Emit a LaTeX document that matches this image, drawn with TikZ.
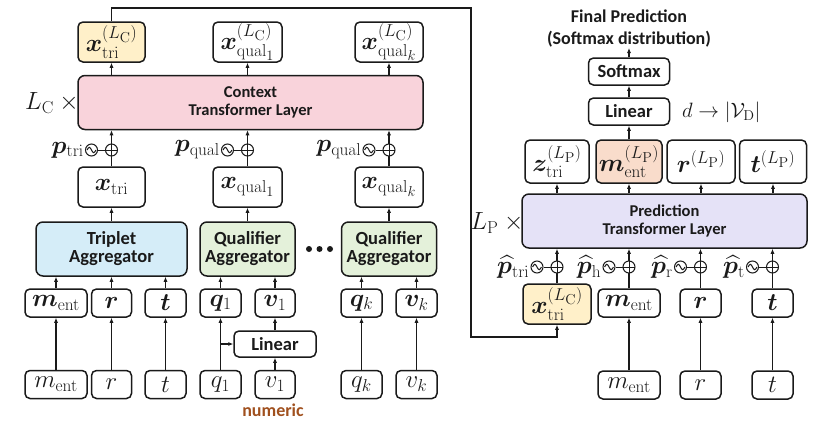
\documentclass[tikz,border=0pt]{standalone}
\usepackage{amsmath}
\usepackage{bm}
\usepackage[no-math]{fontspec}
\setmainfont{Carlito}
\usetikzlibrary{arrows.meta,positioning}
\DeclareMathSizes{24.88}{24.88}{17.28}{14.4}
\definecolor{triyel}{HTML}{FFF0C9}
\definecolor{ctxpink}{HTML}{F9D3DB}
\definecolor{tribl}{HTML}{D5EDF8}
\definecolor{qualgr}{HTML}{E4F1DA}
\definecolor{predlav}{HTML}{E5E2F7}
\definecolor{entpch}{HTML}{F9DCCB}
\definecolor{numbr}{HTML}{A0501E}
\definecolor{edge}{HTML}{1A1A1A}
\def\mth{\fontsize{24.88}{28}\selectfont}
\def\mths{\fontsize{20.74}{24}\selectfont}
\def\txt{\fontsize{16.5}{18}\selectfont\bfseries}
\def\txb{\fontsize{18.5}{18}\selectfont\bfseries}
\def\xlc{^{(L_{\mathrm{C}})}}
\def\xlp{^{(L_{\mathrm{P}})}}
\tikzset{
  box/.style={draw=edge, line width=1.5pt, rounded corners=5pt, inner sep=0pt, align=center},
  vec/.style={box, minimum width=#1, minimum height=28pt, font=\mth},
  vec/.default=41pt,
  tall/.style={box, minimum width=#1, minimum height=40pt, font=\mth},
  lay/.style={box, minimum height=54pt, font=\txt, rounded corners=7pt},
  agg/.style={lay, font=\txb},
  lin/.style={box, minimum width=81pt, minimum height=27pt, font=\txb},
  oplus/.style={circle, draw=edge, line width=1pt, minimum size=12pt, inner sep=0pt, fill=white,
    path picture={\draw[edge, line width=1pt] (path picture bounding box.north) -- (path picture bounding box.south)
      (path picture bounding box.west) -- (path picture bounding box.east);}},
  sinc/.style={circle, draw=edge, line width=1pt, minimum size=12pt, inner sep=0pt, fill=white,
    path picture={\draw[edge, line width=1pt] ([xshift=-4.4pt]path picture bounding box.center)
      sin ++(2.2pt,2.7pt) cos ++(2.2pt,-2.7pt) sin ++(2.2pt,-2.7pt) cos ++(2.2pt,2.7pt);}},
  plab/.style={anchor=east, inner sep=0.5pt, font=\mth}
}

\begin{document}
\begin{tikzpicture}[x=1pt, y=-1pt, >={Latex[length=5pt,width=4.2pt]}, line width=1.6pt, color=edge]
  \useasboundingbox (0,0) rectangle (815,421);

  % context side
  \node[tall=67pt, fill=triyel] (ctri) at (111.5,42) {$\bm{x}\xlc_{\mathrm{tri}}$};
  \node[tall=69pt] (cq1) at (247.5,42) {$\bm{x}\xlc_{\mathrm{qual}_1}$};
  \node[tall=68pt] (cqk) at (389,42) {$\bm{x}\xlc_{\mathrm{qual}_k}$};
  \node[lay, minimum width=345pt, fill=ctxpink] (ctx) at (250.5,102.5) {Context\\Transformer Layer};
  \node[font=\mth] (lc) at (52,103) {$L_{\mathrm{C}}\ \times$};

  \node[tall=67pt] (xtri) at (111.5,187) {$\bm{x}_{\mathrm{tri}}$};
  \node[tall=69pt] (xq1) at (247.5,187) {$\bm{x}_{\mathrm{qual}_1}$};
  \node[tall=68pt] (xqk) at (389,187) {$\bm{x}_{\mathrm{qual}_k}$};

  \node[agg, minimum width=151pt, fill=tribl] (tagg) at (111.5,249) {Triplet\\Aggregator};
  \node[agg, minimum width=95pt, fill=qualgr] (qagg1) at (247.5,249) {Qualifier\\Aggregator};
  \node[agg, minimum width=95pt, fill=qualgr] (qaggk) at (389,249) {Qualifier\\Aggregator};
  \foreach \dx in {-10.5,0,10.5}
    \fill[edge] (319.5+\dx,249) circle (3pt);

  \node[vec=62pt] (mv) at (56,303) {$\bm{m}_{\mathrm{ent}}$};
  \node[vec=40pt] (rv) at (111.5,303) {$\bm{r}$};
  \node[vec] (tv) at (165.5,303) {$\bm{t}$};
  \node[vec] (q1v) at (220.5,303) {$\bm{q}_1$};
  \node[vec=40pt] (v1v) at (275,303) {$\bm{v}_1$};
  \node[vec] (qkv) at (361.5,303) {$\bm{q}_k$};
  \node[vec] (vkv) at (416.5,303) {$\bm{v}_k$};

  \node[lin, minimum width=82pt, minimum height=26pt] (lin1) at (275,344) {Linear};

  \node[vec=62pt] (m0) at (56,384.5) {$m_{\mathrm{ent}}$};
  \node[vec=40pt] (r0) at (111.5,384.5) {$r$};
  \node[vec] (t0) at (165.5,384.5) {$t$};
  \node[vec] (q10) at (220.5,384.5) {$q_1$};
  \node[vec=40pt] (v10) at (275,384.5) {$v_1$};
  \node[vec] (qk0) at (361.5,384.5) {$q_k$};
  \node[vec] (vk0) at (416.5,384.5) {$v_k$};
  \node[font=\fontsize{18}{20}\selectfont\bfseries, text=numbr, inner sep=0pt] (num) at (273,410) {numeric};

  % raw -> vectors -> aggregators
  \draw[->] (m0) -- (mv);
  \draw[->] (r0) -- (rv);
  \draw[->] (t0) -- (tv);
  \draw[->] (q10) -- (q1v);
  \draw[->] (v10) -- (lin1);
  \draw[->] (lin1) -- (v1v);
  \coordinate (br) at (q10.north |- lin1.west);
  \draw[->] (br) -- (lin1.west);
  \draw[->] (qk0) -- (qkv);
  \draw[->] (vk0) -- (vkv);
  \foreach \v/\g in {mv/tagg, rv/tagg, tv/tagg, q1v/qagg1, v1v/qagg1, qkv/qaggk, vkv/qaggk}
    \draw[->] (\v.north) -- (\v.north |- \g.south);
  \draw[->] (tagg) -- (xtri);
  \draw[->] (qagg1) -- (xq1);
  \draw[->] (qaggk) -- (xqk);
  \foreach \x in {xtri, xq1, xqk}
    \draw[->] (\x.north) -- (\x.north |- ctx.south);
  \foreach \c in {ctri, cq1, cqk}
    \draw[->] (\c.south |- ctx.north) -- (\c.south);

  % positional encodings
  \node[oplus] (o1) at (111.5,150) {};
  \node[sinc, left=7pt of o1] (s1) {};
  \node[oplus] (o2) at (247.5,150) {};
  \node[sinc, left=7pt of o2] (s2) {};
  \node[oplus] (o3) at (389,150) {};
  \node[sinc, left=7pt of o3] (s3) {};
  \draw[line width=1pt] (s1) -- (o1) (s2) -- (o2) (s3) -- (o3);
  \node[plab] (p1) at (s1.west) {$\bm{p}_{\mathrm{tri}}$};
  \node[plab] (p2) at (s2.west) {$\bm{p}_{\mathrm{qual}}$};
  \node[plab] (p3) at (s3.west) {$\bm{p}_{\mathrm{qual}}$};

  % prediction side
  \node[tall=68pt, fill=triyel] (rtri) at (557,304) {$\bm{x}\xlc_{\mathrm{tri}}$};
  \node[vec=62pt] (pmv) at (629,303) {$\bm{m}_{\mathrm{ent}}$};
  \node[vec] (prv) at (700.5,303) {$\bm{r}$};
  \node[vec] (ptv) at (772.5,303) {$\bm{t}$};
  \node[vec=62pt] (pm0) at (629,385) {$m_{\mathrm{ent}}$};
  \node[vec] (pr0) at (700.5,385) {$r$};
  \node[vec] (pt0) at (772.5,385) {$t$};

  \node[lay, minimum width=285pt, fill=predlav] (pred) at (664.5,221) {Prediction\\Transformer Layer};
  \node[font=\mth] (lp) at (497,223) {$L_{\mathrm{P}}\ \times$};

  \node[box, minimum width=64pt, minimum height=43pt, font=\mth] (ztri) at (557,161.5) {$\bm{z}\xlp_{\mathrm{tri}}$};
  \node[box, minimum width=66pt, minimum height=43pt, font=\mth, fill=entpch] (mentp) at (629,161.5) {$\bm{m}\xlp_{\mathrm{ent}}$};
  \node[box, minimum width=68pt, minimum height=43pt, font=\mth] (rp) at (701,161.5) {$\bm{r}\xlp$};
  \node[box, minimum width=67pt, minimum height=43pt, font=\mth] (tp) at (773,161.5) {$\bm{t}\xlp$};

  \node[lin] (lin2) at (629,111.5) {Linear};
  \node[lin] (soft) at (629,71.5) {Softmax};
  \node[font=\mths, anchor=west] (dv) at (678,112) {$d\rightarrow|\mathcal{V}_{\mathrm{D}}|$};
  \node[anchor=south, inner sep=0pt, align=center, font=\fontsize{18}{22}\selectfont\bfseries] (fin) at (629,48) {Final Prediction\\(Softmax distribution)};

  \draw[->] (pm0) -- (pmv);
  \draw[->] (pr0) -- (prv);
  \draw[->] (pt0) -- (ptv);
  \foreach \v in {rtri, pmv, prv, ptv}
    \draw[->] (\v.north) -- (\v.north |- pred.south);
  \foreach \c in {ztri, mentp, rp, tp}
    \draw[->] (\c.south |- pred.north) -- (\c.south);
  \draw[->] (mentp) -- (lin2);
  \draw[->] (lin2) -- (soft);
  \draw[->] (soft) -- (fin.south);

  % hat encodings
  \node[oplus] (h1) at (557,267) {};
  \node[sinc, left=7pt of h1] (hs1) {};
  \node[oplus] (h2) at (629,267) {};
  \node[sinc, left=7pt of h2] (hs2) {};
  \node[oplus] (h3) at (700.5,267) {};
  \node[sinc, left=7pt of h3] (hs3) {};
  \node[oplus] (h4) at (772.5,267) {};
  \node[sinc, left=7pt of h4] (hs4) {};
  \draw[line width=1pt] (hs1) -- (h1) (hs2) -- (h2) (hs3) -- (h3) (hs4) -- (h4);
  \node[plab] (ph1) at (hs1.west) {$\widehat{\bm{p}}_{\mathrm{tri}}$};
  \node[plab] (ph2) at (hs2.west) {$\widehat{\bm{p}}_{\mathrm{h}}$};
  \node[plab] (ph3) at (hs3.west) {$\widehat{\bm{p}}_{\mathrm{r}}$};
  \node[plab] (ph4) at (hs4.west) {$\widehat{\bm{p}}_{\mathrm{t}}$};

  % feedback of the triplet token
  \coordinate (fbt) at (471,8);
  \coordinate (fbb) at (471,337);
  \draw[->] (ctri.north) |- (fbt) -- (fbb) -| (rtri.south);
\end{tikzpicture}
\end{document}
